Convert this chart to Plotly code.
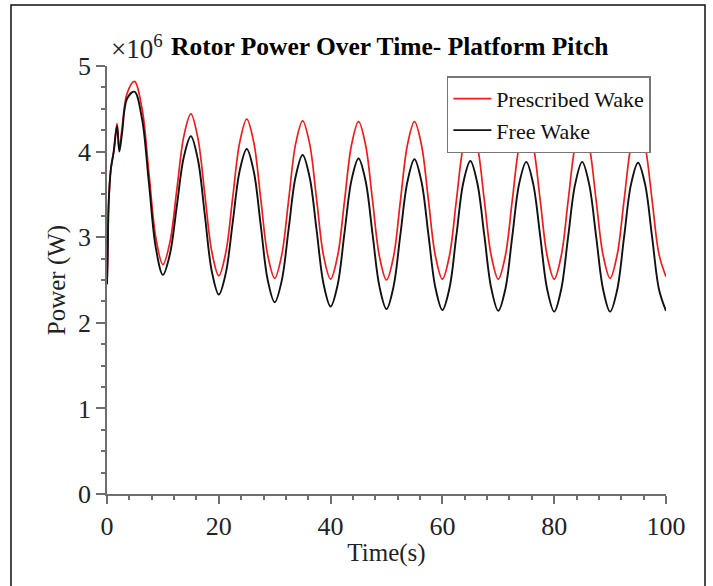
import plotly.graph_objects as go

# Time (s) and rotor power (x10^6 W)
t_pres = [0, 0.1, 0.3, 0.7, 1.2, 1.8, 2.2, 2.7, 3.6, 4.9,
          6.25, 7.5, 8.75, 10, 11.25, 12.5, 13.75, 15, 16.25, 17.5, 18.75, 20,
          21.25, 22.5, 23.75, 25, 26.25, 27.5, 28.75, 30, 31.25, 32.5, 33.75, 35,
          36.25, 37.5, 38.75, 40, 41.25, 42.5, 43.75, 45, 46.25, 47.5, 48.75, 50,
          51.25, 52.5, 53.75, 55, 56.25, 57.5, 58.75, 60, 61.25, 62.5, 63.75, 65,
          66.25, 67.5, 68.75, 70, 71.25, 72.5, 73.75, 75, 76.25, 77.5, 78.75, 80,
          81.25, 82.5, 83.75, 85, 86.25, 87.5, 88.75, 90, 91.25, 92.5, 93.75, 95,
          96.25, 97.5, 98.75, 100]
p_pres = [2.45, 2.7, 3.4, 3.8, 4.0, 4.33, 4.02, 4.28, 4.68, 4.82,
          4.51, 3.75, 2.99, 2.68, 2.94, 3.56, 4.18, 4.44, 4.16, 3.50, 2.83, 2.55,
          2.82, 3.47, 4.11, 4.38, 4.11, 3.45, 2.79, 2.52, 2.79, 3.44, 4.09, 4.36,
          4.09, 3.44, 2.78, 2.51, 2.78, 3.43, 4.08, 4.35, 4.08, 3.43, 2.77, 2.50,
          2.77, 3.43, 4.08, 4.35, 4.08, 3.43, 2.78, 2.51, 2.78, 3.43, 4.07, 4.34,
          4.07, 3.43, 2.78, 2.51, 2.78, 3.43, 4.07, 4.34, 4.07, 3.43, 2.78, 2.51,
          2.78, 3.43, 4.07, 4.34, 4.07, 3.43, 2.79, 2.52, 2.79, 3.43, 4.07, 4.34,
          4.07, 3.44, 2.80, 2.54]

t_free = t_pres
p_free = [2.45, 2.7, 3.4, 3.8, 4.0, 4.30, 4.00, 4.22, 4.62, 4.70,
          4.39, 3.63, 2.87, 2.56, 2.80, 3.37, 3.94, 4.18, 3.91, 3.26, 2.60, 2.33,
          2.58, 3.18, 3.78, 4.03, 3.77, 3.14, 2.50, 2.24, 2.49, 3.10, 3.71, 3.96,
          3.70, 3.08, 2.45, 2.19, 2.44, 3.06, 3.67, 3.92, 3.66, 3.04, 2.42, 2.16,
          2.42, 3.04, 3.65, 3.91, 3.65, 3.03, 2.41, 2.15, 2.40, 3.02, 3.64, 3.89,
          3.63, 3.02, 2.40, 2.14, 2.39, 3.01, 3.63, 3.88, 3.62, 3.01, 2.39, 2.13,
          2.39, 3.01, 3.62, 3.88, 3.62, 3.01, 2.39, 2.13, 2.38, 3.00, 3.62, 3.87,
          3.62, 3.01, 2.39, 2.14]

x_ticks = [0, 20, 40, 60, 80, 100]
y_ticks = [0, 1, 2, 3, 4, 5]

FONT = "Liberation Serif"
AX = "#6e6e6e"
TXT = "#222"

fig = go.Figure()
fig.add_trace(go.Scatter(x=t_pres, y=p_pres, mode="lines", name="Prescribed Wake",
                         line=dict(color="#ee1c1c", width=1.7, shape="spline", smoothing=1.0)))
fig.add_trace(go.Scatter(x=t_free, y=p_free, mode="lines", name="Free Wake",
                         line=dict(color="#111111", width=1.9, shape="spline", smoothing=1.0)))

fig.update_layout(
    width=713, height=586,
    margin=dict(l=107, r=47, t=66, b=92),
    paper_bgcolor="white", plot_bgcolor="white",
    font=dict(family=FONT, size=25, color=TXT),
    showlegend=True,
    legend=dict(x=0.608, y=0.976, xanchor="left", yanchor="top",
                bgcolor="white", bordercolor="#777", borderwidth=1.5,
                font=dict(family=FONT, size=22, color="#111"),
                tracegroupgap=0, itemwidth=38),
)
fig.update_xaxes(range=[0, 100], tickvals=x_ticks, showgrid=False, zeroline=False,
                 showline=True, linecolor=AX, linewidth=1.5,
                 ticks="outside", ticklen=8, tickwidth=1.5, tickcolor=AX,
                 minor=dict(dtick=4, ticks="outside", ticklen=4, tickwidth=1.5, tickcolor=AX),
                 tickfont=dict(family=FONT, size=26, color=TXT),
                 title=dict(text="Time(s)", font=dict(family=FONT, size=25, color=TXT), standoff=4))
fig.update_yaxes(range=[0, 5], tickvals=y_ticks, showgrid=False, zeroline=False,
                 showline=True, linecolor=AX, linewidth=1.5,
                 ticks="outside", ticklen=9, tickwidth=1.5, tickcolor=AX,
                 minor=dict(dtick=0.25, ticks="outside", ticklen=4.5, tickwidth=1.5, tickcolor=AX),
                 tickfont=dict(family=FONT, size=26, color=TXT),
                 title=dict(text="Power (W)", font=dict(family=FONT, size=25, color=TXT), standoff=5))

fig.add_annotation(xref="paper", yref="paper", x=0.0036, y=1.044, xanchor="left", yanchor="middle",
                   text="×10<sup>6</sup>", showarrow=False,
                   font=dict(family=FONT, size=27, color=TXT))
fig.add_annotation(xref="paper", yref="paper", x=0.111, y=1.046, xanchor="left", yanchor="middle",
                   text="<b>Rotor Power Over Time- Platform Pitch</b>", showarrow=False,
                   font=dict(family=FONT, size=25.5, color="#000"))

fig.add_shape(type="rect", xref="paper", yref="paper",
              x0=(11 - 107) / 559, x1=(705 - 107) / 559,
              y0=(494 - 600) / 428, y1=(494 - 5) / 428,
              line=dict(color="#111", width=1.5), fillcolor="rgba(0,0,0,0)", layer="below")

fig.write_html("out.html")
